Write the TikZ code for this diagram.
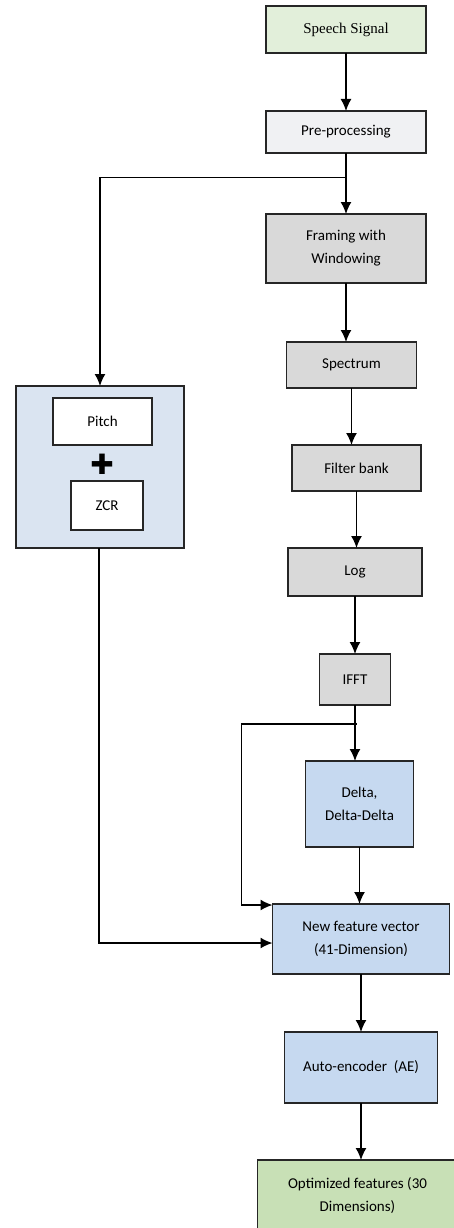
\documentclass[tikz,border=0pt]{standalone}
\usepackage{fontspec}
\setsansfont{Carlito}
\newfontfamily\symfont{DejaVu Sans}
\newfontfamily\sigfont{Liberation Serif}
\usetikzlibrary{arrows.meta, positioning, calc}

\definecolor{sigfill}{HTML}{E2EFDA}
\definecolor{prefill}{HTML}{F0F1F3}
\definecolor{greyfill}{HTML}{D9D9D9}
\definecolor{bluefill}{HTML}{C6D9F0}
\definecolor{groupfill}{HTML}{DAE4F1}
\definecolor{optfill}{HTML}{C8E0B6}

\begin{document}
\begin{tikzpicture}[x=1pt, y=-1pt,
    font=\sffamily\fontsize{15}{23}\selectfont,
    block/.style={draw=black!85, line width=1.5pt, align=center, inner sep=2pt, outer sep=0pt},
    link/.style={-{Latex[length=12pt,width=11pt]}, line width=1.5pt}]
\useasboundingbox (0,0) rectangle (453,1228);

    % main chain
        \node[block,
              fill=sigfill,
              minimum width=160pt, minimum height=47pt,
              font=\sigfont\fontsize{15}{16}\selectfont] (sig) at (346,29.5) {Speech Signal};
        \node[block,
              below=58pt of sig,
              fill=prefill,
              minimum width=160pt, minimum height=42pt] (pre) {Pre-processing};
        \node[block,
              below=61pt of pre,
              fill=greyfill,
              minimum width=160pt, minimum height=69pt] (frame) {Framing with\\Windowing};
        \node[block,
              below=59pt of frame, xshift=5.5pt,
              fill=greyfill,
              minimum width=130pt, minimum height=46pt] (spec) {Spectrum};
        \node[block,
              below=57pt of spec, xshift=5pt,
              fill=greyfill,
              minimum width=129pt, minimum height=46pt] (fbank) {Filter bank};
        \node[block,
              below=57pt of fbank, xshift=-1.5pt,
              fill=greyfill,
              minimum width=134pt, minimum height=48pt] (log) {Log};
        \node[block,
              below=58pt of log,
              fill=greyfill,
              minimum width=71pt, minimum height=51pt] (ifft) {IFFT};
        \node[block,
              below=56pt of ifft, xshift=4.5pt,
              fill=bluefill,
              minimum width=108pt, minimum height=86pt] (delta) {Delta,\\Delta-Delta};
        \node[block,
              below=57pt of delta, xshift=1.5pt,
              fill=bluefill,
              minimum width=177pt, minimum height=70pt] (nfv) {New feature vector\\(41-Dimension)};
        \node[block,
              below=58pt of nfv,
              fill=bluefill,
              minimum width=153pt, minimum height=71pt] (ae) {Auto-encoder~~(AE)};
        \node[block,
              below=57pt of ae, xshift=-3.5pt,
              fill=optfill,
              minimum width=200pt, minimum height=72pt] (opt) {Optimized features (30\\Dimensions)};

    % pitch and zcr group
        \node[block,
              fill=groupfill,
              minimum width=168pt, minimum height=162pt] (grp) at (100,467) {};
        \node[block,
              fill=white,
              minimum width=99pt, minimum height=47pt] (pitch) at (102.5,421.5) {Pitch};
        \node[font=\symfont\fontsize{28}{28}\selectfont,
              inner sep=0pt] (plus) at (102,464) {✚};
        \node[block,
              fill=white,
              minimum width=72pt, minimum height=49pt] (zcr) at (107,505.5) {ZCR};

    % branch points
        \coordinate (br1) at ($(pre.south)!0.4!(frame.north)$);
        \coordinate (br2) at ($(ifft.south)!0.34!(delta.north)$);

    \draw[link] (sig) -- (pre);
    \draw[link] (pre) -- (frame);
    \draw[link] (br1) -| (grp.north);
    \draw[link] (frame) -- (frame |- spec.north);
    \draw[link] (spec) -- (spec |- fbank.north);
    \draw[link] (fbank) -- (fbank |- log.north);
    \draw[link] (log) -- (log |- ifft.north);
    \draw[link] (ifft) -- (ifft |- delta.north);
    \draw[link] (br2) -- ++(-115,0) |- ([yshift=-1pt]nfv.north west);
    \draw[link] (delta) -- (delta |- nfv.north);
    \draw[link] ([xshift=-1pt]grp.south) |- ([yshift=-4pt]nfv.west);
    \draw[link] (nfv) -- (nfv |- ae.north);
    \draw[link] (ae) -- (ae |- opt.north);
\end{tikzpicture}
\end{document}
